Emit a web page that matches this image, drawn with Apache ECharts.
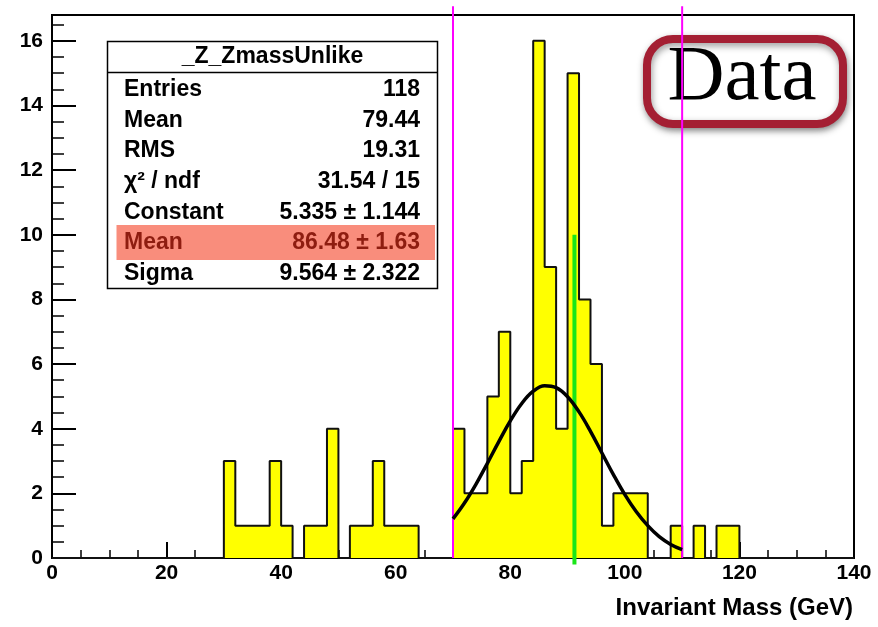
<!DOCTYPE html>
<html>
<head>
<meta charset="utf-8">
<script src="https://cdn.jsdelivr.net/npm/echarts@6/dist/echarts.min.js"></script>
<style>
  html, body { margin: 0; padding: 0; background: #fff; }
  #chart { width: 878px; height: 627px; }
</style>
</head>
<body>
<div id="chart"></div>
<script>
// histogram: 2 GeV bins starting at 0
const binWidth = 2;
const xRange = [0, 140];
const counts = [
  0, 0, 0, 0, 0, 0, 0, 0, 0, 0, 0, 0, 0, 0, 0,   // 0 - 30
  3, 1, 1, 1, 3, 1, 0, 1, 1, 4,                  // 30 - 50
  0, 1, 1, 3, 1, 1, 1, 0, 0, 0,                  // 50 - 70
  4, 2, 2, 5, 7, 2, 3, 16, 9, 4,                 // 70 - 90
  15, 8, 6, 1, 2, 2, 2, 0, 0, 1,                 // 90 - 110
  0, 1, 0, 1, 1,                                 // 110 - 120
  0, 0, 0, 0, 0, 0, 0, 0, 0, 0                   // 120 - 140
];

// gaus fit curve
const fitX = [70, 72, 74, 76, 78, 80, 82, 84, 86, 88, 90, 92, 94, 96, 98, 100, 102, 104, 106, 108, 110];
const fitY = [1.21, 1.70, 2.28, 2.93, 3.60, 4.24, 4.78, 5.16, 5.33, 5.27, 4.99, 4.52, 3.92, 3.25, 2.58, 1.96, 1.43, 1.00, 0.66, 0.42, 0.26];

const windowEdges = [70, 110];   // magenta lines
const zMass = 91.2;              // green marker
const zMarkerSpan = [-0.2, 10];

const statTitle = "_Z_ZmassUnlike";
const statLabels = ["Entries", "Mean", "RMS", "χ² / ndf", "Constant", "Mean", "Sigma"];
const statValues = ["118", "79.44", "19.31", "31.54 / 15", "5.335 ± 1.144", "86.48 ± 1.63", "9.564 ± 2.322"];
const highlightRow = 5;

const FONT = "'Liberation Sans', Arial, Helvetica, sans-serif";

const chart = echarts.init(document.getElementById("chart"));

const histData = counts.map((c, i) => [xRange[0] + i * binWidth, c]);
histData.push([xRange[1], 0]);

const fitData = fitX.map((x, i) => [x, fitY[i]]);

// stats box
const boxX = 107.5, boxY = 41.5, boxW = 330, boxH = 247;
const rowY0 = 90, rowStep = 30.55;
const statGraphics = [
  { type: "rect", shape: { x: boxX, y: boxY, width: boxW, height: boxH },
    style: { fill: "#fff", stroke: "#000", lineWidth: 1.5 } },
  { type: "line", shape: { x1: boxX, y1: 72.5, x2: boxX + boxW, y2: 72.5 },
    style: { stroke: "#000", lineWidth: 1.5 } },
  { type: "rect", shape: { x: 116.5, y: 225, width: 318.5, height: 35 },
    style: { fill: "#f98d7c" } },
  { type: "text", x: boxX + boxW / 2, y: 57,
    style: { text: statTitle, font: "bold 23px " + FONT, fill: "#000", align: "center", verticalAlign: "middle" } }
];
statLabels.forEach((lab, i) => {
  const col = i === highlightRow ? "#8e1d10" : "#000";
  const y = rowY0 + i * rowStep;
  statGraphics.push({ type: "text", x: 124, y: y,
    style: { text: lab, font: "bold 23px " + FONT, fill: col, align: "left", verticalAlign: "middle" } });
  statGraphics.push({ type: "text", x: 420, y: y,
    style: { text: statValues[i], font: "bold 23px " + FONT, fill: col, align: "right", verticalAlign: "middle" } });
});

const dataLabel = [
  { type: "rect", shape: { x: 647, y: 39, width: 196, height: 85, r: 26 },
    style: { fill: "#fff", stroke: "#a41f33", lineWidth: 8,
      shadowBlur: 7, shadowOffsetX: 1, shadowOffsetY: 3, shadowColor: "rgba(0,0,0,0.4)" } },
  { type: "text", x: 742, y: 78,
    style: { text: "Data", font: "79px 'Liberation Serif', 'Times New Roman', serif", fill: "#000",
      align: "center", verticalAlign: "middle" } }
];

const axisFont = { fontFamily: FONT, fontWeight: "bold", fontSize: 21, color: "#000" };

const option = {
  animation: false,
  backgroundColor: "#fff",
  grid: { left: 52, right: 24, top: 15, bottom: 69, show: true, borderColor: "#000", borderWidth: 2, backgroundColor: "transparent" },
  xAxis: {
    type: "value",
    min: xRange[0], max: xRange[1], interval: 20,
    axisLine: { lineStyle: { color: "#000", width: 2 } },
    axisTick: { inside: true, length: 16, lineStyle: { color: "#000", width: 2 } },
    minorTick: { show: true, splitNumber: 4, length: 8, lineStyle: { color: "#000", width: 1.5 } },
    splitLine: { show: false },
    axisLabel: Object.assign({ margin: 5 }, axisFont),
    name: "Invariant Mass (GeV)",
    nameLocation: "end",
    nameGap: -1,
    nameTextStyle: { fontFamily: FONT, fontWeight: "bold", fontSize: 24, color: "#000",
      align: "right", verticalAlign: "top", padding: [38, 0, 0, 0] }
  },
  yAxis: [
    {
      type: "value",
      min: 0, max: 16.8, interval: 2,
      axisLine: { lineStyle: { color: "#000", width: 2 } },
      axisTick: { inside: true, length: 24, lineStyle: { color: "#000", width: 2 } },
      splitLine: { show: false },
      axisLabel: Object.assign({ margin: 9, showMaxLabel: false }, axisFont)
    },
    {
      type: "value",
      min: 0, max: 16.8, interval: 0.5,
      position: "left",
      axisLine: { show: false },
      axisTick: { inside: true, length: 12, lineStyle: { color: "#000", width: 1.5 } },
      splitLine: { show: false },
      axisLabel: { show: false }
    }
  ],
  graphic: statGraphics.concat(dataLabel),
  series: [
    {
      type: "line",
      data: histData,
      step: "end",
      showSymbol: false,
      lineStyle: { color: "#111", width: 2 },
      areaStyle: { color: "#ffff00", opacity: 1 },
      z: 2
    },
    {
      type: "line",
      data: [[zMass, zMarkerSpan[0]], [zMass, zMarkerSpan[1]]],
      showSymbol: false,
      clip: false,
      lineStyle: { color: "#19e619", width: 4 },
      z: 3
    },
    ...windowEdges.map(x => ({
      type: "line",
      data: [[x, 0], [x, 17.07]],
      showSymbol: false,
      clip: false,
      lineStyle: { color: "#ff00ff", width: 2 },
      z: 4
    })),
    {
      type: "line",
      data: fitData,
      smooth: 0.4,
      showSymbol: false,
      lineStyle: { color: "#000", width: 3.5 },
      z: 5
    }
  ]
};

chart.setOption(option);
</script>
</body>
</html>
